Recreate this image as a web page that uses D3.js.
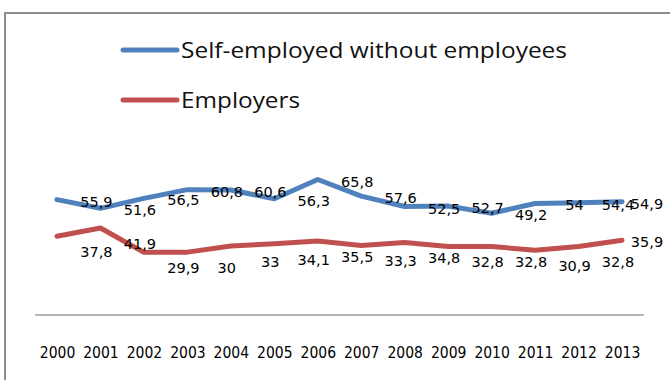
<!DOCTYPE html>
<html>
<head>
<meta charset="utf-8">
<script src="https://cdn.jsdelivr.net/npm/d3@7"></script>
<style>
    body { margin: 0; background: #fff; }
    svg { display: block; }
</style>
</head>
<body>
<svg id="chart" width="670" height="380"></svg>
<script>
// Data
const years = ["2000", "2001", "2002", "2003", "2004", "2005", "2006",
               "2007", "2008", "2009", "2010", "2011", "2012", "2013"];
const selfEmployed = [55.9, 51.6, 56.5, 60.8, 60.6, 56.3, 65.8, 57.6, 52.5, 52.7, 49.2, 54, 54.4, 54.9];
const employers = [37.8, 41.9, 29.9, 30, 33, 34.1, 35.5, 33.3, 34.8, 32.8, 32.8, 30.9, 32.8, 35.9];
const seriesNames = ["Self-employed without employees", "Employers"];
const seriesColors = ["#4f81bd", "#c0504d"];

const svg = d3.select("#chart");

// outer frame (only top and left edges show in the picture)
svg.append("path")
    .attr("d", "M5,380 V13 H670")
    .attr("fill", "none")
    .attr("stroke", "#8c8c8c")
    .attr("stroke-width", 2);

const x = d3.scalePoint().domain(years).range([57, 622]);
const step = x.step();
const y = d3.scaleLinear().domain([0, 70]).range([313, 171]);

// baseline axis
svg.append("g")
    .attr("transform", "translate(0,315)")
    .call(d3.axisBottom(x).tickSize(0).tickPadding(0))
    .call(g => g.select(".domain")
        .attr("d", `M${x(years[0]) - step / 2},0H${x(years[years.length - 1]) + step / 2}`)
        .attr("stroke", "#9a9a9a")
        .attr("stroke-width", 1.5))
    .call(g => g.selectAll("text")
        .attr("dy", 43)
        .attr("fill", "#000")
        .attr("font-family", "'DejaVu Sans Condensed', 'DejaVu Sans', sans-serif")
        .attr("font-stretch", "condensed")
        .attr("font-size", 15.5));

const line = d3.line()
    .x((d, i) => x(years[i]))
    .y(d => y(d));

const series = [selfEmployed, employers];

series.forEach((values, s) => {
    svg.append("path")
        .datum(values)
        .attr("fill", "none")
        .attr("stroke", seriesColors[s])
        .attr("stroke-width", 5)
        .attr("stroke-linejoin", "round")
        .attr("stroke-linecap", "round")
        .attr("d", line);
});

// data labels: the source chart draws each label one category to the right
const maxLabelX = 647;
series.forEach((values, s) => {
    svg.append("g")
        .selectAll("text")
        .data(values)
        .join("text")
        .attr("x", (d, i) => Math.min(x(years[i]) + step - 4, maxLabelX))
        .attr("y", (d, i) => {
            if (i === values.length - 1 || s === 0) return y(d) + 7;
            return y(d) + 21;
        })
        .attr("text-anchor", "middle")
        .attr("font-family", "'DejaVu Sans', sans-serif")
        .attr("font-size", 14.5)
        .attr("fill", "#000")
        .text(d => String(d).replace(".", ","));
});

// legend
const legend = svg.append("g");
seriesNames.forEach((name, i) => {
    const ly = 50 + i * 50;
    legend.append("line")
        .attr("x1", 123).attr("x2", 177)
        .attr("y1", ly).attr("y2", ly)
        .attr("stroke", seriesColors[i])
        .attr("stroke-width", 5)
        .attr("stroke-linecap", "round");
    legend.append("text")
        .attr("x", 181)
        .attr("y", ly + 8)
        .attr("font-family", "'Open Sans', sans-serif")
        .attr("font-size", 22)
        .attr("fill", "#111")
        .attr("textLength", i === 0 ? 386 : 119)
        .attr("lengthAdjust", "spacingAndGlyphs")
        .text(name);
});
</script>
</body>
</html>
